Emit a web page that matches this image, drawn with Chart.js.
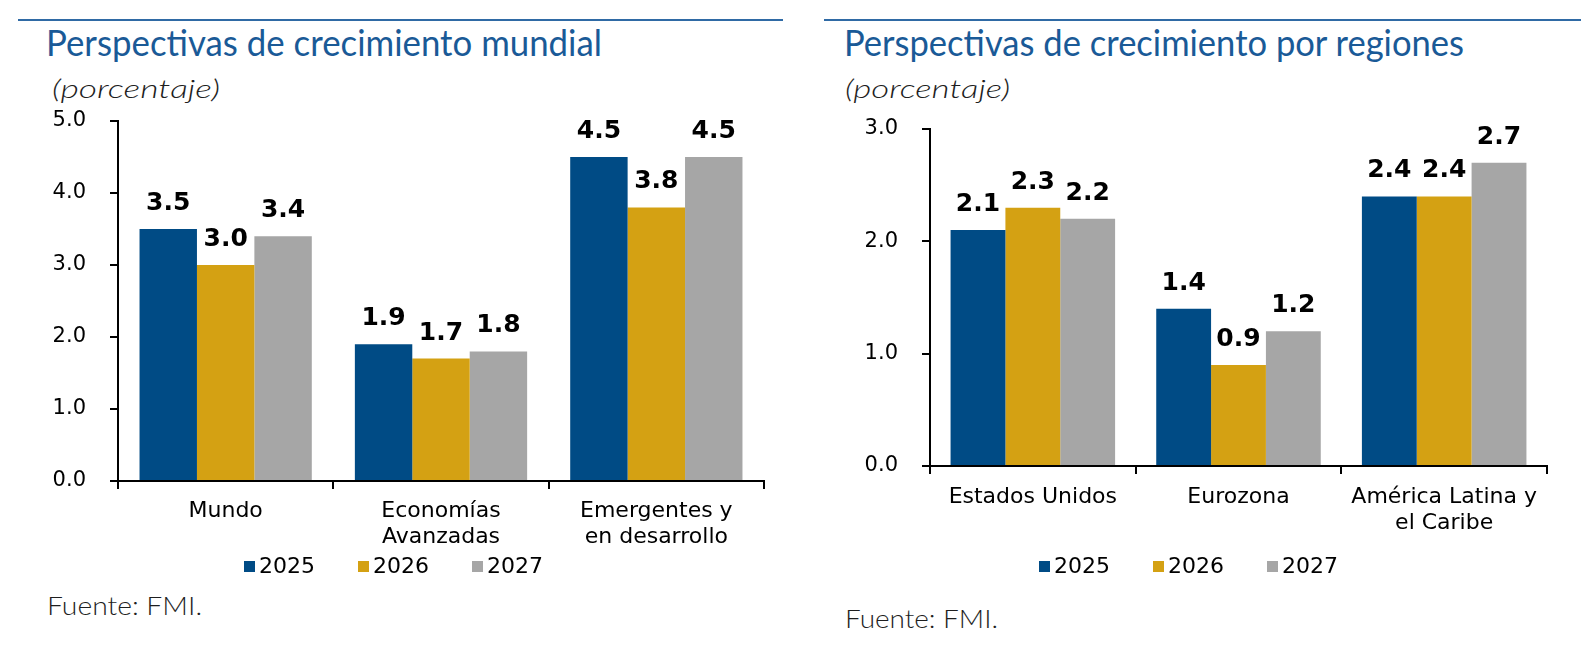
<!DOCTYPE html>
<html lang="es">
<head>
<meta charset="utf-8">
<title>Perspectivas de crecimiento</title>
<script src="https://cdn.jsdelivr.net/npm/chart.js@4.4.1/dist/chart.umd.min.js"></script>
<style>
  html, body { margin: 0; padding: 0; background: #fff; }
  body { width: 1594px; height: 656px; position: relative; overflow: hidden; }
  .rule { position: absolute; height: 2px; background: #2f6aa5; top: 19px; }
  .txt { position: absolute; white-space: nowrap; transform-origin: 0 0; line-height: 1; }
  .title { font-family: Lato, sans-serif; font-size: 36px; color: #1a5a97; }
  .unit { font-family: Lato, sans-serif; font-style: italic; font-weight: 300; font-size: 26px; color: #1e1e1e; }
  .src { font-family: Lato, sans-serif; font-weight: 300; font-size: 25px; color: #1e1e1e; }
  canvas { position: absolute; }
  .legend { position: absolute; display: flex; align-items: center; font-family: "DejaVu Sans", sans-serif; font-size: 22px; color: #000; line-height: 1; }
  .legend .item { display: flex; align-items: center; width: 114px; }
  .legend .box { width: 11px; height: 11px; margin-right: 4px; }
</style>
</head>
<body>

<div class="rule" style="left:18px; width:765px;"></div>
<div class="rule" style="left:824px; width:757px;"></div>

<div class="txt title" id="t1" style="left:46px; top:24px;">Perspectivas de crecimiento mundial</div>
<div class="txt title" id="t2" style="left:844px; top:24px;">Perspectivas de crecimiento por regiones</div>
<div class="txt unit" id="u1" style="left:52px; top:75px;">(porcentaje)</div>
<div class="txt unit" id="u2" style="left:845px; top:75px;">(porcentaje)</div>

<canvas id="mundial" width="797" height="460" style="left:0px; top:100px;"></canvas>
<canvas id="regiones" width="797" height="460" style="left:797px; top:100px;"></canvas>

<div class="legend" id="leg1" style="left:244px; top:555px;"></div>
<div class="legend" id="leg2" style="left:1039px; top:555px;"></div>

<div class="txt src" id="f1" style="left:47px; top:593px;">Fuente: FMI.</div>
<div class="txt src" id="f2" style="left:845px; top:606px;">Fuente: FMI.</div>

<script>
// datos
const years = ['2025', '2026', '2027'];
const yearColors = ['#004b85', '#d4a113', '#a6a6a6'];

const mundialLabels = ['Mundo', ['Economías', 'Avanzadas'], ['Emergentes y', 'en desarrollo']];
const mundial2025 = [3.5, 1.9, 4.5];
const mundial2026 = [3.0, 1.7, 3.8];
const mundial2027 = [3.4, 1.8, 4.5];
const mundialTicks = [0, 1, 2, 3, 4, 5];

const regionLabels = ['Estados Unidos', 'Eurozona', ['América Latina y', 'el Caribe']];
const region2025 = [2.1, 1.4, 2.4];
const region2026 = [2.3, 0.9, 2.4];
const region2027 = [2.2, 1.2, 2.7];
const regionTicks = [0, 1, 2, 3];

// etiquetas de valor encima de cada barra
const valueLabels = {
    id: 'valueLabels',
    afterDatasetsDraw(chart) {
        const ctx = chart.ctx;
        ctx.save();
        ctx.font = 'bold 25px "DejaVu Sans"';
        ctx.fillStyle = '#000';
        ctx.textAlign = 'center';
        ctx.textBaseline = 'alphabetic';
        chart.data.datasets.forEach((ds, i) => {
            chart.getDatasetMeta(i).data.forEach((bar, j) => {
                ctx.fillText(ds.data[j].toFixed(1), bar.x, bar.y - 19);
            });
        });
        ctx.restore();
    }
};

function makeChart(id, labels, series, ticks, opts) {
    const axisGrid = { drawOnChartArea: false, drawTicks: true, tickLength: 8, color: '#000', lineWidth: 2 };
    return new Chart(document.getElementById(id), {
        type: 'bar',
        data: {
            labels: labels,
            datasets: series.map((data, i) => ({
                label: years[i],
                data: data,
                backgroundColor: yearColors[i],
                borderWidth: 0,
                categoryPercentage: 0.8,
                barPercentage: 1.0
            }))
        },
        options: {
            responsive: false,
            animation: false,
            devicePixelRatio: 1,
            layout: { padding: opts.padding },
            plugins: { legend: { display: false }, tooltip: { enabled: false } },
            scales: {
                x: {
                    grid: axisGrid,
                    border: { color: '#000', width: 2 },
                    ticks: {
                        color: '#000',
                        padding: opts.xPad,
                        maxRotation: 0,
                        autoSkip: false,
                        font: { family: '"DejaVu Sans"', size: 22, lineHeight: 1.2 }
                    },
                    afterFit: s => { s.height = opts.xHeight; }
                },
                y: {
                    min: ticks[0],
                    max: ticks[ticks.length - 1],
                    afterBuildTicks: s => { s.ticks = ticks.map(v => ({ value: v })); },
                    grid: axisGrid,
                    border: { color: '#000', width: 2 },
                    ticks: {
                        color: '#000',
                        padding: 24,
                        font: { family: '"DejaVu Sans"', size: 21 },
                        callback: v => v.toFixed(1)
                    },
                    afterFit: s => {
                        s.width = opts.yWidth;
                        s.paddingTop = 0;
                        s.paddingBottom = 0;
                    }
                }
            }
        },
        plugins: [valueLabels]
    });
}

makeChart('mundial', mundialLabels, [mundial2025, mundial2026, mundial2027], mundialTicks, {
    padding: { top: 21, right: 33, left: 0, bottom: 0 },
    yWidth: 118, xHeight: 79, xPad: 9
});

makeChart('regiones', regionLabels, [region2025, region2026, region2027], regionTicks, {
    padding: { top: 29, right: 47, left: 0, bottom: 0 },
    yWidth: 133, xHeight: 94, xPad: 10
});

// leyendas
['leg1', 'leg2'].forEach(id => {
    const el = document.getElementById(id);
    years.forEach((y, i) => {
        const item = document.createElement('div');
        item.className = 'item';
        item.innerHTML = '<span class="box" style="background:' + yearColors[i] + '"></span><span>' + y + '</span>';
        el.appendChild(item);
    });
});

// ajustar ancho de textos al original
function fit(id, w) {
    const el = document.getElementById(id);
    el.style.transform = 'scaleX(' + (w / el.offsetWidth) + ')';
}
fit('t1', 556);
fit('t2', 620);
fit('u1', 168);
fit('u2', 165);
fit('f1', 155);
fit('f2', 153);
</script>
</body>
</html>
